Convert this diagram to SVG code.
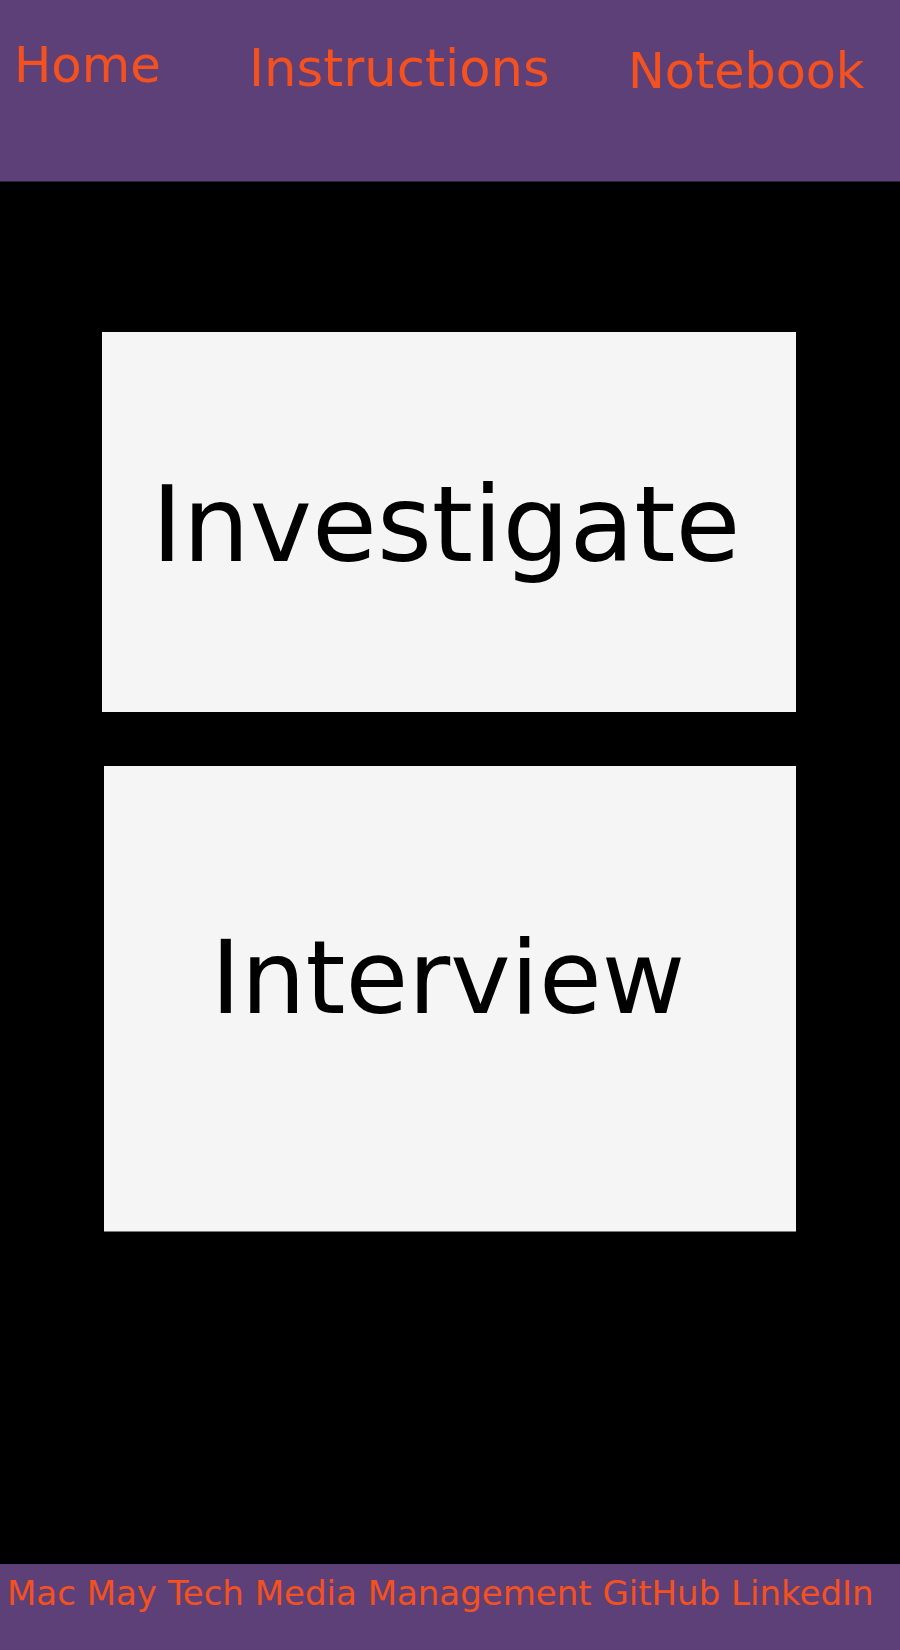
<svg xmlns="http://www.w3.org/2000/svg" width="900" height="1650" viewBox="0 0 900 1650">
<style>
.bar{fill:#5d4078}
.nav{font-family:"DejaVu Sans",Verdana,sans-serif;fill:#f4511e}
.card{fill:#f5f5f5}
.lbl{font-family:"DejaVu Sans",Verdana,sans-serif;fill:#000;text-anchor:middle}
</style>
<rect width="900" height="1650" fill="#000"/>
<g id="header">
<rect class="bar" x="0" y="0" width="900" height="181.5"/>
<text class="nav" x="14" y="82" font-size="49.7">Home</text>
<text class="nav" x="249" y="86" font-size="51.2">Instructions</text>
<text class="nav" x="628" y="88" font-size="49.2">Notebook</text>
</g>
<g id="investigate">
<rect class="card" x="102" y="332" width="694" height="380"/>
<text class="lbl" x="446" y="561" font-size="105.5">Investigate</text>
</g>
<g id="interview">
<rect class="card" x="104" y="766" width="692" height="465.5"/>
<text class="lbl" x="448" y="1013" font-size="102">Interview</text>
</g>
<g id="connectors"/>
<g id="footer">
<rect class="bar" x="0" y="1564" width="900" height="86"/>
<text class="nav" x="7" y="1605" font-size="34">Mac May Tech Media Management GitHub LinkedIn</text>
</g>
</svg>
